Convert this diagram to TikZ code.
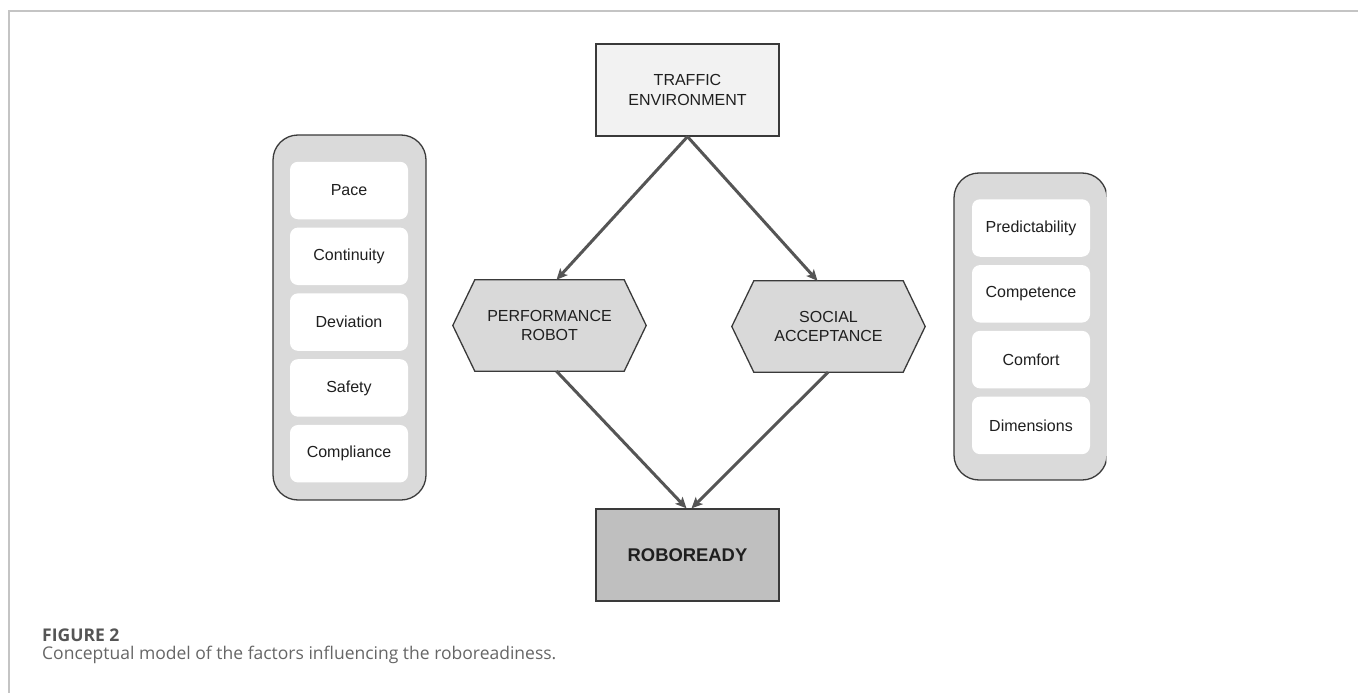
\documentclass[tikz,border=0pt]{standalone}
\usepackage{fontspec}
\setmainfont{Liberation Sans}
\newfontfamily\capfont{Open Sans}
\usetikzlibrary{arrows.meta,backgrounds,calc}
\definecolor{framecol}{HTML}{C4C4C4}
\definecolor{edgecol}{HTML}{3A3A3A}
\definecolor{arrowcol}{HTML}{555555}
\definecolor{panelfill}{HTML}{DADADA}
\definecolor{topfill}{HTML}{F2F2F2}
\definecolor{hexfill}{HTML}{D9D9D9}
\definecolor{rrfill}{HTML}{BFBFBF}
\definecolor{captitle}{HTML}{555555}
\definecolor{captext}{HTML}{666666}
\begin{document}
\begin{tikzpicture}[x=1pt,y=-1pt,
  lab/.style={font=\fontsize{16}{19.3}\selectfont, text=black!88, align=center},
  boxnode/.style={lab, draw=edgecol, line width=1.3pt, minimum width=183pt, minimum height=92pt, inner sep=0pt},
  hexnode/.style={lab, minimum width=193pt, minimum height=91pt, inner sep=0pt},
  hexshape/.style={fill=hexfill, draw=edgecol, line width=1.3pt, line join=miter},
  panel/.style={fill=panelfill, draw=edgecol, line width=1.3pt, rounded corners=25pt, minimum width=153pt, inner sep=0pt},
  item/.style={lab, fill=white, rounded corners=8pt, minimum width=118pt, minimum height=57.5pt, inner sep=0pt},
  link/.style={draw=arrowcol, line width=3pt, -{Stealth[length=11pt,width=10pt,inset=2.5pt]}}
]
\useasboundingbox (0,0) rectangle (1358,693);
\begin{scope}[on background layer]
  \fill[white] (0,0) rectangle (1358,693);
\end{scope}

% frame
\draw[framecol, line width=1.2pt] (9,693) -- (9,11) -- (1358,11);

% central nodes
\node[boxnode, fill=topfill] (te) at (687.5,90) {TRAFFIC\\ENVIRONMENT};
\node[hexnode] (pr) at (549.5,325.5) {PERFORMANCE\\ROBOT};
\node[hexnode] (sa) at (828.5,326.5) {SOCIAL\\ACCEPTANCE};
\node[boxnode, fill=rrfill, font=\fontsize{18.4}{22}\selectfont\bfseries] (rr) at (687.5,555) {ROBOREADY};

\begin{scope}[on background layer]
  \foreach \h in {pr,sa}{
    \path[hexshape] (\h.west) -- ([xshift=22pt]\h.north west) -- ([xshift=-22pt]\h.north east)
      -- (\h.east) -- ([xshift=-22pt]\h.south east) -- ([xshift=22pt]\h.south west) -- cycle;
  }
\end{scope}

% left panel
\node[panel, minimum height=365pt] (lp) at (349.5,317.5) {};
\node[item] (l1) at (349,190.5) {Pace};
\node[item] (l2) at (349,256.3) {Continuity};
\node[item] (l3) at (349,322.1) {Deviation};
\node[item] (l4) at (349,387.9) {Safety};
\node[item] (l5) at (349,453.7) {Compliance};

% right panel (right edge clipped as in the figure)
\begin{scope}
  \clip (0,0) rectangle (1106.3,693);
  \node[panel, minimum height=307pt] (rp) at (1030.5,326.5) {};
\end{scope}
\node[item] (r1) at (1031,228) {Predictability};
\node[item] (r2) at (1031,293.8) {Competence};
\node[item] (r3) at (1031,359.6) {Comfort};
\node[item] (r4) at (1031,425.4) {Dimensions};

% connectors
\draw[link] (te.south) -- ([xshift=7pt]pr.north);
\draw[link] (te.south) -- ([xshift=-11pt]sa.north);
\draw[link] ([xshift=7pt]pr.south) -- ([xshift=-1pt]rr.north);
\draw[link] ([xshift=-0.5pt]sa.south) -- ([xshift=4pt]rr.north);

% caption
\node[anchor=base west, inner sep=0pt, text=captitle, font=\capfont\fontsize{17.5}{20}\selectfont\bfseries] (ct) at (42,641) {FIGURE 2};
\node[anchor=base west, inner sep=0pt, text=captext, font=\capfont\fontsize{17.5}{20}\selectfont] (cx) at (42,659) {Conceptual model of the factors influencing the roboreadiness.};
\end{tikzpicture}
\end{document}
